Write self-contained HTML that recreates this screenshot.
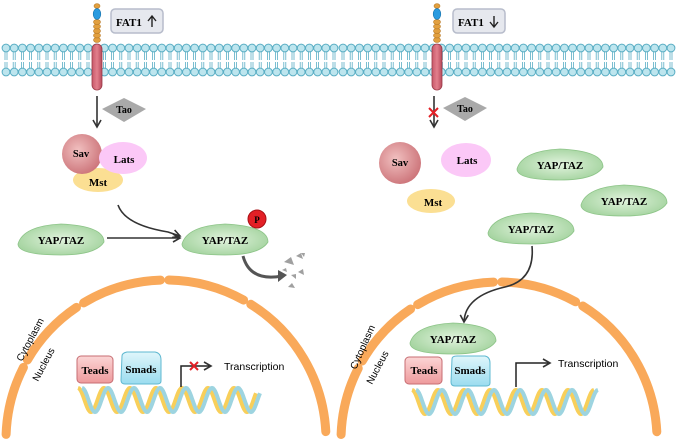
<!DOCTYPE html>
<html><head><meta charset="utf-8"><style>
html,body{margin:0;padding:0;background:#fff;}
svg{display:block;}
text{font-family:"Liberation Serif",serif;font-weight:bold;}
.s{font-family:"Liberation Sans",sans-serif;font-weight:normal;}
</style></head><body>
<svg id="s" width="677" height="439" viewBox="0 0 677 439" xmlns="http://www.w3.org/2000/svg">
<defs>
<radialGradient id="sav" cx="0.4" cy="0.4" r="0.7"><stop offset="0" stop-color="#f1c0c0"/><stop offset="1" stop-color="#c96d73"/></radialGradient>
<radialGradient id="yap" cx="0.5" cy="0.5" r="0.6"><stop offset="0" stop-color="#e2f3de"/><stop offset="1" stop-color="#9fd19a"/></radialGradient>
<linearGradient id="teads" x1="0" y1="0" x2="0" y2="1"><stop offset="0" stop-color="#fbd5d5"/><stop offset="1" stop-color="#ee9a9c"/></linearGradient>
<linearGradient id="smads" x1="0" y1="0" x2="0" y2="1"><stop offset="0" stop-color="#dff6fb"/><stop offset="1" stop-color="#9bdcef"/></linearGradient>
<linearGradient id="rec" x1="0" y1="0" x2="1" y2="0"><stop offset="0" stop-color="#c8586a"/><stop offset="0.5" stop-color="#e27f8c"/><stop offset="1" stop-color="#b84a5c"/></linearGradient>
<marker id="ah" markerWidth="10" markerHeight="10" refX="8" refY="5" orient="auto" markerUnits="userSpaceOnUse"><path d="M1,1 L8,5 L1,9" fill="none" stroke="#333" stroke-width="1.6"/></marker>
</defs>
<g id="mem"></g>
<g id="content"></g>
</svg>
<script>
var mem=document.getElementById('mem'),c=document.getElementById('content');
var h='';
[[6,335],[343,672]].forEach(function(r){
 for(var x=r[0];x<=r[1];x+=8.2){
  h+='<line x1="'+(x-1)+'" y1="51" x2="'+(x-1)+'" y2="60" stroke="#5aaec4" stroke-width="0.8"/><line x1="'+(x+1)+'" y1="51" x2="'+(x+1)+'" y2="60" stroke="#5aaec4" stroke-width="0.8"/>';
  h+='<line x1="'+(x-1)+'" y1="62" x2="'+(x-1)+'" y2="70" stroke="#5aaec4" stroke-width="0.8"/><line x1="'+(x+1)+'" y1="62" x2="'+(x+1)+'" y2="70" stroke="#5aaec4" stroke-width="0.8"/>';
  h+='<circle cx="'+x+'" cy="48" r="3.9" fill="#bde5ee" stroke="#5aaec4" stroke-width="1"/>';
  h+='<circle cx="'+x+'" cy="72" r="3.9" fill="#bde5ee" stroke="#5aaec4" stroke-width="1"/>';
 }
});
mem.innerHTML=h;
function dna(x0,x1,y){
 var p1='',p2='';
 for(var x=x0;x<=x1;x+=1){
  var a=(x-x0)/26*2*Math.PI;
  p1+=(x==x0?'M':'L')+x+','+(y-12*Math.cos(a)).toFixed(1);
  p2+=(x==x0?'M':'L')+(x+4)+','+(y-12*Math.cos(a)).toFixed(1);
 }
 return '<path d="'+p1+'" fill="none" stroke="#f8cf5a" stroke-width="4"/><path d="'+p2+'" fill="none" stroke="#9dd4e0" stroke-width="4"/>';
}
function rec(x){
 var s='';
 s+='<ellipse cx="'+x+'" cy="6" rx="3" ry="2.3" fill="#e2a040" stroke="#b97a25" stroke-width="0.6"/>';
 for(var y=40;y>=22;y-=4.5){ s+='<ellipse cx="'+x+'" cy="'+y+'" rx="3.5" ry="2.4" fill="#e2a040" stroke="#b97a25" stroke-width="0.6"/>';}
 s+='<ellipse cx="'+x+'" cy="14" rx="3.8" ry="5.5" fill="#2a9be0" stroke="#1870a8" stroke-width="0.6"/>';
 s+='<rect x="'+(x-5)+'" y="44" width="10" height="46" rx="5" fill="url(#rec)" stroke="#9a3a48" stroke-width="0.8"/>';
 return s;
}
function yap(cx,cy,rx){rx=rx||43;
 return '<path d="M'+(cx-rx)+','+(cy+4)+' Q'+(cx-rx+5)+','+(cy-14)+' '+(cx)+','+(cy-16)+' Q'+(cx+rx)+','+(cy-14)+' '+(cx+rx)+','+(cy+2)+' Q'+(cx+rx-8)+','+(cy+15)+' '+cx+','+(cy+15)+' Q'+(cx-rx)+','+(cy+15)+' '+(cx-rx)+','+(cy+4)+'Z" fill="url(#yap)" stroke="#8cc487" stroke-width="0.8"/><text x="'+cx+'" y="'+(cy+4)+'" font-size="11" text-anchor="middle">YAP/TAZ</text>';
}
function arc(cx,cy,r){
 var s='',segs=[[182,207],[210,236],[239,268],[271,299],[302,357]];
 segs.forEach(function(g){
  var a0=g[0]*Math.PI/180,a1=g[1]*Math.PI/180;
  s+='<path d="M'+(cx+r*Math.cos(a0)).toFixed(1)+','+(cy+r*Math.sin(a0)).toFixed(1)+' A'+r+','+r+' 0 0 1 '+(cx+r*Math.cos(a1)).toFixed(1)+','+(cy+r*Math.sin(a1)).toFixed(1)+'" fill="none" stroke="#f9a95a" stroke-width="9" stroke-linecap="round"/>';
 });
 return s;
}
var o='';
// LEFT
o+=rec(97);
o+='<rect x="111" y="9" width="52" height="24" rx="4" fill="#e6e8ee" stroke="#b7bccb" stroke-width="1.5"/><text x="116" y="26" font-size="11">FAT1</text><path d="M152,27 V17 M148,21 L152,16 L156,21" stroke="#222" stroke-width="1.4" fill="none"/>';
o+='<line x1="97" y1="96" x2="97" y2="127" stroke="#333" stroke-width="1.6" marker-end="url(#ah)"/>';
o+='<path d="M102,109 L124,98 L146,109 L124,122Z" fill="#a9a9a9"/><text x="124" y="113" font-size="10" text-anchor="middle">Tao</text>';
o+='<ellipse cx="98" cy="180" rx="25" ry="12" fill="#fbdf93"/><text x="98" y="186" font-size="11" text-anchor="middle">Mst</text>';
o+='<circle cx="82" cy="154" r="20" fill="url(#sav)"/><text x="81" y="157" font-size="10.5" text-anchor="middle">Sav</text>';
o+='<ellipse cx="123" cy="158" rx="24" ry="16" fill="#fbc8f7"/><text x="124" y="163" font-size="11" text-anchor="middle">Lats</text>';
o+=yap(61,240);o+=yap(225,240);
o+='<circle cx="257" cy="219" r="9" fill="#e32026" stroke="#a81116"/><text x="257" y="223" font-size="9" text-anchor="middle">P</text>';
o+='<line x1="107" y1="238" x2="180" y2="238" stroke="#333" stroke-width="1.6" marker-end="url(#ah)"/>';
o+='<path d="M118,205 Q125,225 168,232 L180,236" fill="none" stroke="#333" stroke-width="1.6" marker-end="url(#ah)"/>';
o+='<path d="M243,256 Q250,282 282,276" fill="none" stroke="#555" stroke-width="3"/><path d="M278,270 L287,275 L278,282Z" fill="#555"/>';
o+='<path d="M284,262 l7,-5 l3,8z M296,256 l5,-3 l2,6z M298,272 l5,-3 l1,6z M288,287 l4,-4 l3,5z M301,253 l4,0 l-1,4z M291,275 l5,-1 l0,5z M282,270 l4,-2 l1,4z" fill="#a0a0a0"/>';
o+=arc(166,440,160);
o+='<text class="s" x="22" y="362" font-size="10" transform="rotate(-62 22 362)">Cytoplasm</text>';
o+='<text class="s" x="38" y="382" font-size="10" transform="rotate(-62 38 382)">Nucleus</text>';
o+=dna(78,256,400);
o+='<rect x="77" y="356" width="36" height="27" rx="4" fill="url(#teads)" stroke="#c76e73"/><text x="95" y="374" font-size="11" text-anchor="middle">Teads</text>';
o+='<path d="M122,356 Q122,353 127,352 L155,352 Q161,353 161,360 L161,381 Q161,384 157,384 L125,384 Q121,384 121,380Z" fill="url(#smads)" stroke="#5fb8d0"/><text x="141" y="373" font-size="11" text-anchor="middle">Smads</text>';
o+='<path d="M181,387 V366 H211" fill="none" stroke="#222" stroke-width="1.5" marker-end="url(#ah)"/>';
o+='<path d="M190,362 l8,8 M198,362 l-8,8" stroke="#e32026" stroke-width="2"/>';
o+='<text class="s" x="224" y="370" font-size="10.5">Transcription</text>';
// RIGHT
o+=rec(437);
o+='<rect x="453" y="9" width="52" height="24" rx="4" fill="#e6e8ee" stroke="#b7bccb" stroke-width="1.5"/><text x="458" y="26" font-size="11">FAT1</text><path d="M494,16 V26 M490,22 L494,27 L498,22" stroke="#222" stroke-width="1.4" fill="none"/>';
o+='<line x1="434" y1="96" x2="434" y2="127" stroke="#333" stroke-width="1.6" marker-end="url(#ah)"/>';
o+='<path d="M429,108 l9,9 M438,108 l-9,9" stroke="#e32026" stroke-width="2"/>';
o+='<path d="M443,108 L465,97 L487,108 L465,121Z" fill="#a9a9a9"/><text x="465" y="112" font-size="10" text-anchor="middle">Tao</text>';
o+='<circle cx="400" cy="163" r="21" fill="url(#sav)"/><text x="400" y="166" font-size="10.5" text-anchor="middle">Sav</text>';
o+='<ellipse cx="466" cy="160" rx="25" ry="17" fill="#fbc8f7"/><text x="467" y="164" font-size="11" text-anchor="middle">Lats</text>';
o+='<ellipse cx="431" cy="201" rx="24" ry="12" fill="#fbdf93"/><text x="433" y="206" font-size="11" text-anchor="middle">Mst</text>';
o+=yap(560,165);o+=yap(624,201);o+=yap(531,229);
o+=arc(499,440,158);
o+='<path d="M532,246 Q535,280 505,287 Q465,296 464,322" fill="none" stroke="#333" stroke-width="1.6" marker-end="url(#ah)"/>';
o+=yap(453,339);
o+='<text class="s" x="356" y="370" font-size="10" transform="rotate(-66 356 370)">Cytoplasm</text>';
o+='<text class="s" x="372" y="385" font-size="10" transform="rotate(-62 372 385)">Nucleus</text>';
o+=dna(412,594,402);
o+='<rect x="405" y="357" width="37" height="27" rx="4" fill="url(#teads)" stroke="#c76e73"/><text x="424" y="374" font-size="11" text-anchor="middle">Teads</text>';
o+='<path d="M452,359 Q452,356 457,356 L485,356 Q490,357 490,363 L490,383 Q490,386 486,386 L455,386 Q451,386 451,382Z" fill="url(#smads)" stroke="#5fb8d0"/><text x="470" y="374" font-size="11" text-anchor="middle">Smads</text>';
o+='<path d="M516,387 V363 H550" fill="none" stroke="#222" stroke-width="1.5" marker-end="url(#ah)"/>';
o+='<text class="s" x="558" y="367" font-size="10.5">Transcription</text>';
c.innerHTML=o;
</script>
</body></html>
